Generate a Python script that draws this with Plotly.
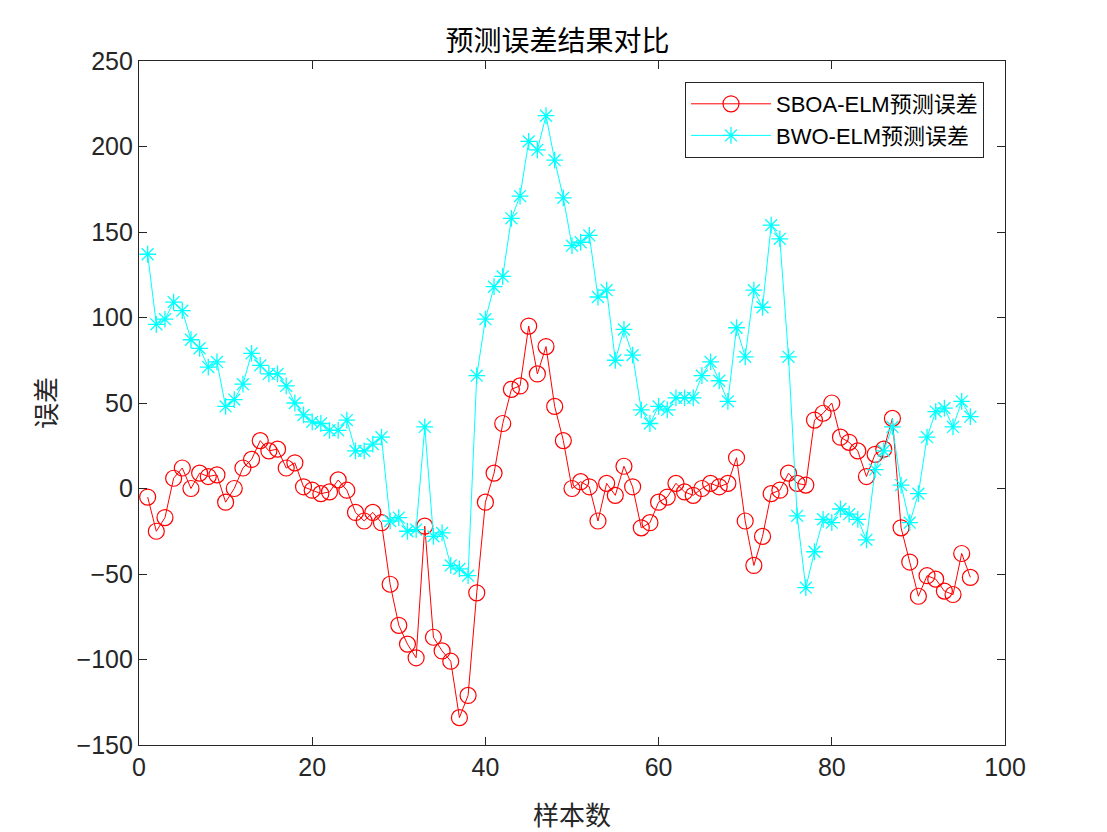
import plotly.graph_objects as go

# sample index
samples = list(range(1, 97))

# SBOA-ELM prediction error
sboa_err = [-5, -25, -17, 6, 12, 0, 9, 7, 8, -8,
            0, 12, 17, 28, 22, 23, 12, 15, 1, -1,
            -3, -2, 5, -1, -14, -19, -14, -20, -56, -80,
            -91, -99, -22, -87, -95, -101, -134, -121, -61, -8,
            9, 38, 58, 60, 95, 67, 83, 48, 28, 0,
            4, 1, -19, 3, -4, 13, 1, -23, -20, -8,
            -5, 3, -2, -4, 0, 3, 1, 3, 18, -19,
            -45, -28, -3, -1, 9, 3, 2, 40, 44, 50,
            30, 27, 22, 7, 20, 23, 41, -23, -43, -63,
            -51, -53, -60, -62, -38, -52]

# BWO-ELM prediction error
bwo_err = [137, 96, 99, 109, 104, 87, 82, 71, 74, 48,
           52, 61, 79, 72, 67, 67, 60, 50, 43, 39,
           38, 34, 34, 40, 22, 22, 26, 30, -19, -17,
           -25, -24, 36, -28, -26, -45, -47, -51, 66, 99,
           118, 124, 158, 171, 203, 198, 218, 192, 170, 142,
           144, 148, 112, 116, 75, 93, 78, 46, 38, 48,
           46, 53, 53, 53, 66, 74, 63, 51, 94, 77,
           116, 106, 154, 146, 77, -16, -58, -37, -18, -20,
           -12, -15, -18, -30, 11, 22, 36, 2, -20, -3,
           30, 45, 47, 36, 51, 42]

font_family = "Liberation Sans, Arial, Noto Sans CJK SC"
cjk_family = "Noto Sans CJK SC"
axis_color = "#262626"

# page body has an 8px margin, so the figure is a bit smaller than the window
W, H = 1099, 824
ml, mt = 131, 53
pw, ph = 866, 684

fig = go.Figure()

fig.add_trace(go.Scatter(
    x=samples, y=sboa_err, mode="lines+markers",
    name="SBOA-ELM预测误差",
    line=dict(color="#ff0000", width=1),
    marker=dict(symbol="circle-open", size=16, color="#ff0000",
                line=dict(width=1.2, color="#ff0000")),
))

fig.add_trace(go.Scatter(
    x=samples, y=bwo_err, mode="lines+markers",
    name="BWO-ELM预测误差",
    line=dict(color="#00ffff", width=1),
    marker=dict(symbol="asterisk-open", size=14, color="#00ffff",
                line=dict(width=1.3, color="#00ffff")),
))

fig.update_layout(
    width=W, height=H,
    paper_bgcolor="white", plot_bgcolor="white",
    margin=dict(l=ml, r=W - ml - pw, t=mt, b=H - mt - ph),
    font=dict(family=font_family, size=25, color=axis_color),
    title=dict(text="预测误差结果对比", x=0.5, xanchor="center",
               y=1 - 33 / H, yanchor="middle",
               font=dict(family=cjk_family, size=28, color="black")),
    legend=dict(x=(976 - ml) / pw, xanchor="right",
                y=1 - (74 - mt) / ph, yanchor="top",
                bordercolor="#262626", borderwidth=1, bgcolor="white",
                font=dict(family=font_family, size=22, color="black"),
                itemwidth=80, tracegroupgap=0),
    showlegend=True,
)

fig.update_xaxes(
    range=[0, 100], tick0=0, dtick=20, automargin=False,
    showgrid=False, zeroline=False,
    showline=True, linecolor=axis_color, linewidth=1.3, mirror="ticks",
    ticks="inside", ticklen=8, tickcolor=axis_color,
    title=dict(text="样本数", font=dict(family=cjk_family, size=26, color=axis_color),
               standoff=26),
)

fig.update_yaxes(
    range=[-150, 250], tick0=-150, dtick=50, automargin=False,
    showgrid=False, zeroline=False,
    showline=True, linecolor=axis_color, linewidth=1.3, mirror="ticks",
    ticks="inside", ticklen=8, tickcolor=axis_color,
    title=dict(text="误差", font=dict(family=cjk_family, size=26, color=axis_color),
               standoff=12),
)

fig.write_html("out.html")
